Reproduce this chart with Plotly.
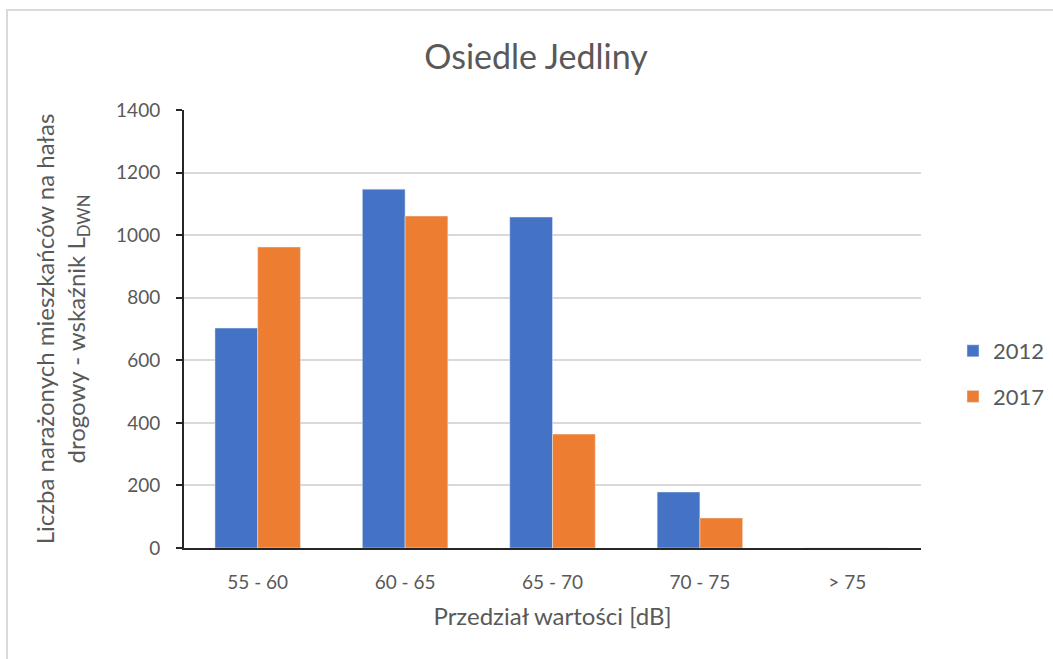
import plotly.graph_objects as go

categories = ["55 - 60", "60 - 65", "65 - 70", "70 - 75", "> 75"]
values_2012 = [703, 1147, 1058, 179, 0]
values_2017 = [962, 1061, 364, 96, 0]
y_ticks = [0, 200, 400, 600, 800, 1000, 1200, 1400]

FONT = "Lato"
GRAY = "#595959"

fig = go.Figure()
fig.add_trace(go.Bar(name="2012", x=categories, y=values_2012, marker_color="#4472C4", legendgroup="a"))
fig.add_trace(go.Bar(name="2017", x=categories, y=values_2017, marker_color="#ED7D31", legendgroup="b"))

L, R, T, B = 184, 921, 110, 548
W, H = 1053, 659
pw, ph = R - L, B - T

def px(x):
    return (x - L) / pw

def py(y):
    return (B - y) / ph

fig.update_layout(
    width=W, height=H,
    margin=dict(l=L, r=W - R, t=T, b=H - B, autoexpand=False),
    paper_bgcolor="white", plot_bgcolor="white",
    barmode="group", bargap=0.42, bargroupgap=0,
    font=dict(family=FONT, color=GRAY, size=19),
    title=dict(text="Osiedle Jedliny", x=(536) / W, xanchor="center",
               y=1 - 57 / H, yanchor="middle",
               font=dict(family=FONT, size=34, color=GRAY)),
    legend=dict(x=px(953), y=py(374), xanchor="left", yanchor="middle",
                font=dict(size=22, color=GRAY), tracegroupgap=14,
                itemwidth=30, bgcolor="rgba(0,0,0,0)"),
    xaxis=dict(showline=True, linecolor="#262626", linewidth=2, ticks="",
               tickfont=dict(size=19, color=GRAY), ticklabelstandoff=16,
               title=dict(text="Przedział wartości [dB]", font=dict(size=24, color=GRAY), standoff=16)),
    yaxis=dict(range=[0, 1400], tickvals=y_ticks, showline=True, linecolor="#262626",
               linewidth=2, ticks="outside", ticklen=6, tickcolor="#262626", tickwidth=2,
               showgrid=True, gridcolor="#d9d9d9", gridwidth=2, zeroline=False,
               tickfont=dict(size=19, color=GRAY), ticklabelstandoff=12,
               title=dict(text="Liczba narażonych mieszkańców na hałas<br>drogowy - wskaźnik L<sub>DWN</sub>",
                          font=dict(size=24, color=GRAY), standoff=24)),
)

fig.add_shape(type="rect", xref="paper", yref="paper",
              x0=px(7), x1=px(W + 20), y0=py(H + 20), y1=py(10),
              line=dict(color="#d9d9d9", width=2), layer="below")

fig.write_html("out.html", config={"displayModeBar": False},
               post_script="document.body.style.margin='0';document.body.style.overflow='hidden';")
